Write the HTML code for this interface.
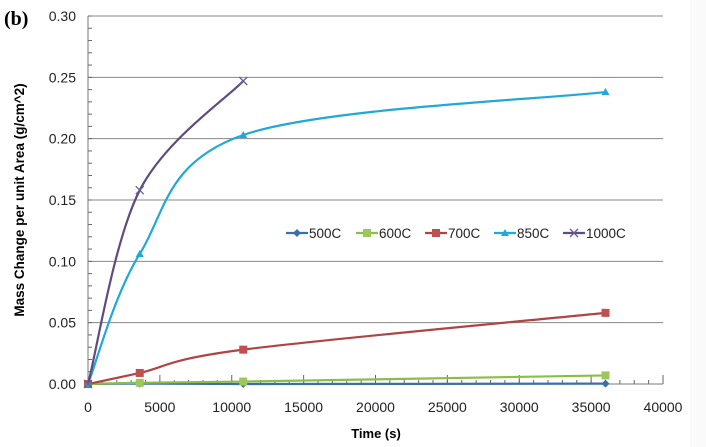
<!DOCTYPE html>
<html><head><meta charset="utf-8"><style>
body{margin:0;background:#fff;}
svg{display:block;font-family:"Liberation Sans",sans-serif;}
</style></head><body>
<svg id="chart" width="706" height="447">
<rect x="690" y="0" width="16" height="447" fill="#fafafa"/>
<text x="4" y="25" font-family="Liberation Serif,serif" font-weight="bold" font-size="20">(b)</text>
<g id="grid"></g><g id="axes"></g><g id="series"></g>
<text x="376" y="438" text-anchor="middle" font-weight="bold" font-size="13">Time (s)</text>
<text transform="translate(24,200) rotate(-90)" text-anchor="middle" font-weight="bold" font-size="13.5">Mass Change per unit Area (g/cm^2)</text>
<g id="legend"></g>
</svg>
<script>
const times=[0,3600,10800,36000];
const s500=[0,0.0003,0,0.0003];
const s600=[0,0.001,0.002,0.007];
const s700=[0,0.009,0.028,0.058];
const s850=[0,0.106,0.203,0.238];
const s1000=[0,0.158,0.247];
const seriesNames=["500C","600C","700C","850C","1000C"];
const yTicks=[0,0.05,0.10,0.15,0.20,0.25,0.30];
const xTicks=[0,5000,10000,15000,20000,25000,30000,35000,40000];
const NS="http://www.w3.org/2000/svg";
const X=v=>88+v*575/40000, Y=v=>384-v*368/0.30;
function mk(t,a,p){const e=document.createElementNS(NS,t);for(const k in a)e.setAttribute(k,a[k]);p.appendChild(e);return e;}
const grid=document.getElementById('grid'),axes=document.getElementById('axes'),ser=document.getElementById('series'),leg=document.getElementById('legend');
yTicks.forEach(v=>{
 if(v>0){const l=mk('line',{x1:88,x2:663,y1:Y(v),y2:Y(v),stroke:'#888','stroke-width':1},grid);
 
 }
 const t=mk('text',{x:76,y:Y(v)+5,'text-anchor':'end','font-size':14,fill:'#222'},axes);t.textContent=v.toFixed(2);
 
 
});
for(let v=0;v<=0.30001;v+=0.01){mk('line',{x1:88,x2:92,y1:Y(v),y2:Y(v),stroke:'#666'},axes);}
xTicks.forEach(v=>{
 mk('line',{x1:X(v),x2:X(v),y1:384,y2:375,stroke:'#666'},axes);
 const t=mk('text',{x:X(v),y:412,'text-anchor':'middle','font-size':14,fill:'#222'},axes);t.textContent=v;
 
 
});
for(let v=0;v<=40000;v+=1000){mk('line',{x1:X(v),x2:X(v),y1:384,y2:380,stroke:'#666'},axes);}
mk('line',{x1:88,x2:88,y1:16,y2:384,stroke:'#777'},axes);
mk('line',{x1:88,x2:663,y1:384,y2:384,stroke:'#777'},axes);
function smooth(pts){let d=`M${pts[0][0]},${pts[0][1]}`;for(let i=0;i<pts.length-1;i++){const p0=pts[i-1]||pts[i],p1=pts[i],p2=pts[i+1],p3=pts[i+2]||p2;const k=1/6;
 d+=` C${p1[0]+(p2[0]-p0[0])*k},${p1[1]+(p2[1]-p0[1])*k} ${p2[0]-(p3[0]-p1[0])*k},${p2[1]-(p3[1]-p1[1])*k} ${p2[0]},${p2[1]}`;}return d;}
function marker(type,x,y,c,g){
 if(type==='d')return mk('polygon',{points:`${x},${y-4} ${x+4},${y} ${x},${y+4} ${x-4},${y}`,fill:c},g);
 if(type==='s')return mk('rect',{x:x-4,y:y-4,width:8,height:8,fill:c},g);
 if(type==='t')return mk('polygon',{points:`${x},${y-4} ${x+4},${y+3} ${x-4},${y+3}`,fill:c},g);
 const p=mk('path',{d:`M${x-4},${y-4}L${x+4},${y+4}M${x+4},${y-4}L${x-4},${y+4}`,stroke:c,'stroke-width':1.3},g);return p;}
const all=[[s500,'#3c6ea8','d'],[s600,'#8cbd4a','s'],[s700,'#b04442','s'],[s850,'#1fa8d9','t'],[s1000,'#5e4b80','x']];
const mcol=['#3c6ea8','#9bc75b','#c0504d','#1fa8d9','#6d5d8f'];
all.forEach(([vals,c,m],i)=>{
 const g=mk('g',{},ser);
 
 
 const pts=vals.map((v,j)=>[X(times[j]),Y(v)]);
 mk('path',{d:smooth(pts),fill:'none',stroke:c,'stroke-width':2.2},g);
 pts.forEach(p=>{const e=marker(m,p[0],p[1],mcol[i],g);
  
  });
});
const lx=[286,356,425,494,563];
seriesNames.forEach((n,i)=>{
 const g=mk('g',{},leg);
 
 
 mk('line',{x1:lx[i],x2:lx[i]+22,y1:233,y2:233,stroke:all[i][1],'stroke-width':2.2},g);
 marker(all[i][2],lx[i]+11,233,mcol[i],g);
 const t=mk('text',{x:lx[i]+23,y:238,'font-size':13.5,fill:'#222'},g);t.textContent=n;
});
</script>
</body></html>
